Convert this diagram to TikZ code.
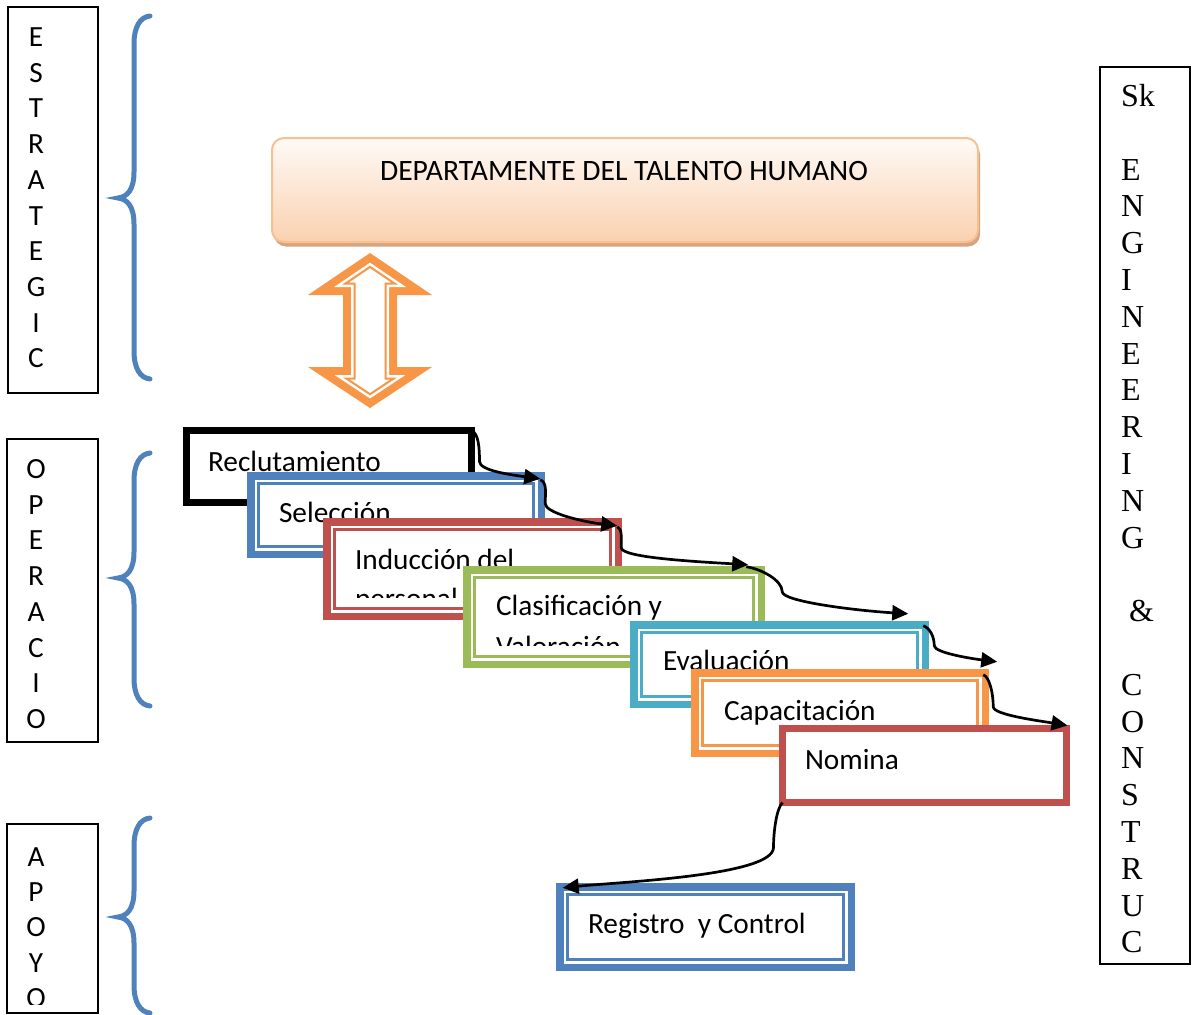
\documentclass[tikz,border=0pt]{standalone}
\usepackage{fontspec}
\setmainfont{Carlito}
\newfontfamily\serifrm{Liberation Serif}
\usetikzlibrary{arrows.meta}
\definecolor{accblue}{HTML}{4F81BD}
\definecolor{accred}{HTML}{C0504D}
\definecolor{accgreen}{HTML}{9BBB59}
\definecolor{acccyan}{HTML}{4BACC6}
\definecolor{accorange}{HTML}{F79646}
\definecolor{peachtop}{HTML}{FFFAF6}
\definecolor{peachbot}{HTML}{FAD1B0}
\definecolor{peachline}{HTML}{F8BF90}
\definecolor{peachshadow}{HTML}{D6A47E}

% inner thin line of a double frame
\newcommand{\innerframe}[2]{%
  \draw[inline=#2] ([shift={(7.75,7.75)}]#1.north west) rectangle ([shift={(-7.75,-7.75)}]#1.south east);}

% curly brace on the left margin: top, tip, bottom
\newcommand{\sidebrace}[3]{%
  \draw[brace] (150,#1) .. controls (140,#1+1) and (134,#1+11) .. (134,#1+28)
    -- (134,#2-26) .. controls (134,#2-8) and (127,#2-1) .. (118,#2)
    .. controls (127,#2+1) and (134,#2+8) .. (134,#2+26)
    -- (134,#3-28) .. controls (134,#3-11) and (140,#3-1) .. (150,#3);}

\begin{document}
\begin{tikzpicture}[x=1pt,y=-1pt,
  every node/.style={inner sep=0pt, outer sep=0pt},
  sidebox/.style={draw=black, line width=2pt},
  letter/.style={anchor=base, font=\fontsize{29.3}{35}\selectfont},
  rletter/.style={anchor=base west, font=\serifrm\fontsize{32}{36.8}\selectfont},
  brace/.style={draw=accblue, line width=5pt, line cap=round},
  sbox/.style={draw=#1, line width=7pt, fill=white},
  dbox/.style={draw=#1, line width=7.5pt, fill=white},
  inline/.style={draw=#1, line width=2.2pt},
  txt/.style={anchor=base west, font=\fontsize{29.3}{39}\selectfont},
  conn/.style={draw=black, line width=2.7pt, -{Triangle[length=16pt,width=15pt]}}]

\useasboundingbox (0,0) rectangle (1192,1015);
\fill[white] (0,0) rectangle (1192,1015);

% ---- left column: levels ----
\node[sidebox, minimum width=90pt, minimum height=386pt] (estr) at (53,200) {};
\foreach \l [count=\i from 0] in {E,S,T,R,A,T,E,G,I,C}
  \node[letter] (estr-\i) at (36,46.5+35.7*\i) {\l};
\sidebrace{16}{198}{379}

\node[sidebox, minimum width=91pt, minimum height=303pt] (oper) at (52.5,590.5) {};
\foreach \l [count=\i from 0] in {O,P,E,R,A,C,I,O}
  \node[letter] (oper-\i) at (36,478.5+35.7*\i) {\l};
\sidebrace{453}{578}{706}

\node[sidebox, minimum width=91pt, minimum height=189pt] (apoy) at (52.5,918.5) {};
\begin{scope}
  \clip (0,0) rectangle (1192,1004);
  \foreach \l [count=\i from 0] in {A,P,O,Y,O}
    \node[letter] (apoy-\i) at (36,866+35.4*\i) {\l};
\end{scope}
\sidebrace{818}{917}{1013}

% ---- right column ----
\node[sidebox, minimum width=90pt, minimum height=897pt] (skec) at (1145,515.5) {};
\foreach \t/\i in {Sk/0,E/2,N/3,G/4,I/5,N/6,E/7,E/8,R/9,I/10,N/11,G/12,{\ \&}/14,C/16,O/17,N/18,S/19,T/20,R/21,U/22,C/23}
  \node[rletter] (skec-\i) at (1121,106.5+36.8*\i) {\t};

% ---- department header ----
\node[fill=peachshadow, rounded corners=12pt, minimum width=706pt, minimum height=104pt] (dth-sh) at (627,194.5) {};
\node[draw=peachline, line width=2pt, rounded corners=12pt, top color=peachtop, bottom color=peachbot,
      minimum width=706pt, minimum height=104pt] (dth) at (625,190) {};
\node[anchor=base, font=\fontsize{29.6}{35}\selectfont] (dth-t) at (624,180) {DEPARTAMENTE DEL TALENTO HUMANO};

% ---- two-headed block arrow ----
\fill[accorange] (370,253) -- (432,295) -- (397,295) -- (397,367) -- (432,367) -- (370,408)
  -- (308,367) -- (343,367) -- (343,295) -- (308,295) -- cycle;
\fill[white] (370,262.7) -- (405.9,287) -- (389,287) -- (389,375) -- (405.4,375) -- (370,398.4)
  -- (334.6,375) -- (351,375) -- (351,287) -- (334.1,287) -- cycle;
\draw[accorange, line width=2pt, line join=miter] (370,266.9) -- (394.5,283.5) -- (385.5,283.5) -- (385.5,378.5)
  -- (393.7,378.5) -- (370,394.2) -- (346.3,378.5) -- (354.5,378.5) -- (354.5,283.5) -- (345.5,283.5) -- cycle;

% ---- cascade of processes ----
\node[sbox=black, minimum width=285pt, minimum height=72pt] (recl) at (329,466.5) {};
\node[txt] (recl-t) at (208,471) {Reclutamiento};

\node[dbox=accblue, minimum width=290.5pt, minimum height=78.5pt] (sel) at (396,515) {};
\innerframe{sel}{accblue}
\node[txt] (sel-t) at (279,522) {Selección};

\node[dbox=accred, minimum width=291.5pt, minimum height=94.5pt] (ind) at (472.5,569) {};
\innerframe{ind}{accred}
\begin{scope}
  \clip (335,530) rectangle (610,597);
  \node[txt] (ind-t1) at (355,569) {Inducción del};
  \node[txt] (ind-t2) at (355,608) {personal};
\end{scope}

\node[dbox=accgreen, minimum width=294.5pt, minimum height=94.5pt] (clas) at (614,617) {};
\innerframe{clas}{accgreen}
\begin{scope}
  \clip (475,578) rectangle (753,645);
  \node[txt] (clas-t1) at (496,615) {Clasificación y};
  \node[txt] (clas-t2) at (496,656) {Valoración};
\end{scope}

\node[dbox=acccyan, minimum width=291.5pt, minimum height=79.5pt] (eval) at (779.5,664.5) {};
\innerframe{eval}{acccyan}
\node[txt] (eval-t) at (663,670) {Evaluación};

\node[dbox=accorange, minimum width=290.5pt, minimum height=80.5pt] (cap) at (840,713) {};
\innerframe{cap}{accorange}
\node[txt] (cap-t) at (724,720) {Capacitación};

\node[sbox=accred, minimum width=284pt, minimum height=74pt] (nom) at (924.5,765.5) {};
\node[txt] (nom-t) at (805,769) {Nomina};

\node[dbox=accblue, minimum width=291.5pt, minimum height=80.5pt] (reg) at (705.5,927) {};
\innerframe{reg}{accblue}
\node[txt] (reg-t) at (588,933) {Registro\ \ y Control};

% ---- flow connectors ----
\draw[conn] (recl.north east) .. controls +(7,3) and +(0,-14) .. ([shift={(8,31)}]recl.north east)
  .. controls +(0,9) and +(-30,-4) .. ([shift={(-1,3)}]sel.north east);
\draw[conn] ([shift={(-1,4)}]sel.north east) .. controls +(7,3) and +(0,-12) .. ([shift={(4,28)}]sel.north east)
  .. controls +(0,9) and +(-35,-4) .. ([shift={(-1,4)}]ind.north east);
\draw[conn] ([shift={(-1,5)}]ind.north east) .. controls +(5,2) and +(0,-10) .. ([shift={(3,26)}]ind.north east)
  .. controls +(0,10) and +(-50,-3) .. ([shift={(-13,-5)}]clas.north east);
\draw[conn] ([shift={(-15,-3)}]clas.north east) .. controls +(14,2) and +(0,-12) .. ([shift={(21,22)}]clas.north east)
  .. controls +(0,10) and +(-50,-3) .. ([shift={(-17,-11)}]eval.north east);
\draw[conn] ([shift={(-2,1)}]eval.north east) .. controls +(6,2) and +(0,-10) .. ([shift={(9,21)}]eval.north east)
  .. controls +(0,7) and +(-25,-3) .. ([shift={(12,-11)}]cap.north east);
\draw[conn] ([shift={(-2,2)}]cap.north east) .. controls +(6,2) and +(0,-14) .. ([shift={(8,34)}]cap.north east)
  .. controls +(0,8) and +(-30,-5) .. ([shift={(1,-3)}]nom.north east);
\draw[conn] (nom.south west) .. controls +(-6,6) and +(0,-16) .. ([shift={(-9,45)}]nom.south west)
  .. controls +(0,28) and +(60,-6) .. ([shift={(3,1)}]reg.north west);

\end{tikzpicture}
\end{document}
